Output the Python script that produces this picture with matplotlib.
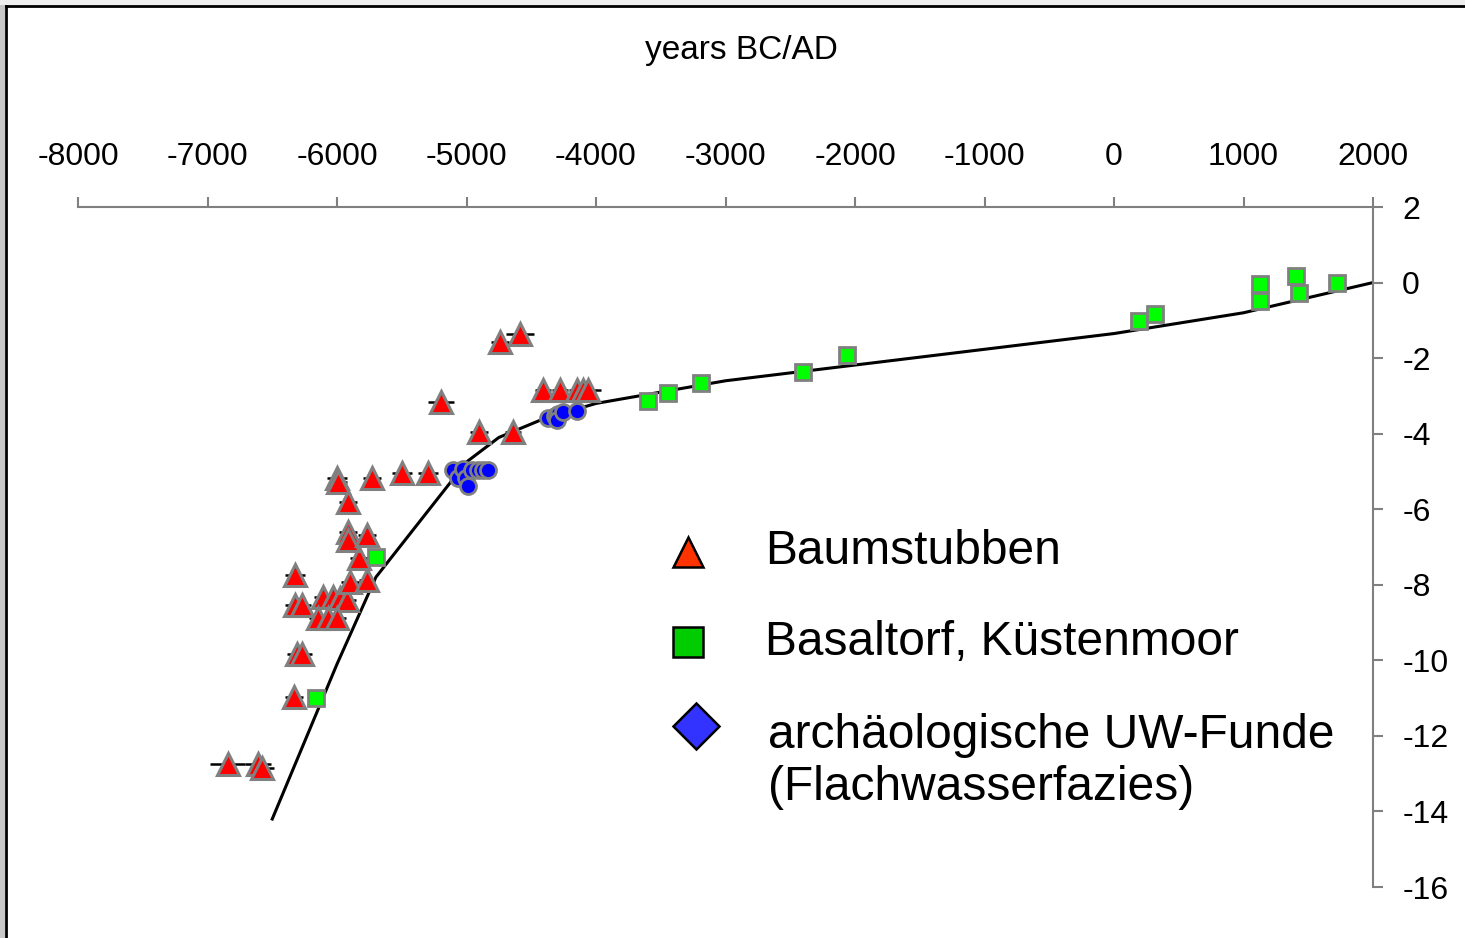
import matplotlib
matplotlib.use("Agg")
import matplotlib.pyplot as plt
import numpy as np
from matplotlib.patches import Rectangle
from matplotlib.lines import Line2D

plt.rcParams['font.family'] = ['Liberation Sans', 'DejaVu Sans']
plt.rcParams['axes.unicode_minus'] = False

# Baumstubben (tree stumps): age, depth, age error
stump_x = [-6842, -6610, -6579, -6332, -6309, -6270, -6324, -6324, -6270, -6108,
           -6031, -5977, -5923, -6147, -6069, -6000, -5900, -5768, -5830, -5915,
           -5915, -5768, -5915, -6000, -5992, -5730, -5498, -5297, -5197, -4903,
           -4641, -4741, -4587, -4409, -4278, -4147, -4100, -4062]
stump_y = [-12.74, -12.74, -12.85, -10.97, -9.83, -9.83, -7.74, -8.53, -8.53, -8.32,
           -8.32, -8.35, -8.40, -8.88, -8.88, -8.88, -7.93, -7.87, -7.29, -6.60,
           -6.81, -6.68, -5.81, -5.17, -5.28, -5.17, -5.04, -5.04, -3.16, -3.96,
           -3.96, -1.57, -1.36, -2.84, -2.84, -2.84, -2.84, -2.84]
stump_err = [135, 100, 90, 70, 80, 80, 80, 80, 70, 70,
             70, 70, 70, 70, 70, 70, 70, 60, 70, 70,
             70, 70, 70, 80, 70, 70, 80, 80, 100, 70,
             60, 70, 110, 60, 60, 60, 60, 100]

# Basaltorf, Kuestenmoor (basal peat)
peat_x = [-6162, -5699, -3598, -3444, -3189, -2402, -2062, 193, 316,
          1127, 1127, 1405, 1428, 1722]
peat_y = [-11.0, -7.26, -3.13, -2.92, -2.66, -2.37, -1.92, -1.02, -0.83,
          -0.04, -0.49, 0.17, -0.28, 0.0]

# archaeological underwater finds
arch_x = [-5104, -5066, -5027, -5004, -4988, -4957, -4911, -4873, -4834,
          -4371, -4317, -4293, -4301, -4255, -4147]
arch_y = [-4.96, -5.17, -4.93, -5.17, -5.38, -4.96, -4.96, -4.96, -4.96,
          -3.59, -3.53, -3.48, -3.64, -3.43, -3.40]
arch_err = [60, 60, 60, 60, 60, 60, 60, 60, 60,
            60, 60, 60, 60, 60, 60]

# sea level curve
curve_x = [-6500, -6000, -5700, -5000, -4750, -4400, -4000, -3000, 0, 1000, 2000]
curve_y = [-14.2, -10.1, -7.8, -4.75, -4.1, -3.6, -3.2, -2.6, -1.35, -0.8, 0.0]

xticks = np.arange(-8000, 2001, 1000)
yticks = np.arange(2, -17, -2)

fig = plt.figure(figsize=(14.65, 9.38), dpi=100)
fig.patch.set_facecolor('white')
# outer frame like the screenshot
fig.add_artist(Rectangle((0, 0), 5/1465, 1, transform=fig.transFigure, color='#c8c8c8', lw=0))
fig.add_artist(Rectangle((0, 1 - 5/938), 1, 5/938, transform=fig.transFigure, color='#eeeeee', lw=0))
fig.add_artist(Line2D([6/1465, 6/1465], [0, 1 - 6/938], transform=fig.transFigure, color='black', lw=2))
fig.add_artist(Line2D([6/1465, 1], [1 - 6/938, 1 - 6/938], transform=fig.transFigure, color='black', lw=2))

ax = fig.add_axes([78/1465, 51/938, 1295/1465, 680/938])
ax.plot(curve_x, curve_y, color='black', lw=2.2, zorder=2)

ax.errorbar(stump_x, stump_y, xerr=stump_err, fmt='none', ecolor='black', elinewidth=1.8, capsize=0, zorder=2.5)
ax.errorbar(arch_x, arch_y, xerr=arch_err, fmt='none', ecolor='black', elinewidth=1.8, capsize=0, zorder=2.5)

ax.plot(stump_x, stump_y, ls='none', marker='^', ms=15.5, mfc='#ff0000', mec='#808080', mew=2.2, zorder=3)
ax.plot(peat_x, peat_y, ls='none', marker='s', ms=11, mfc='#00ff00', mec='#808080', mew=2.0, zorder=3)
ax.plot(arch_x, arch_y, ls='none', marker='o', ms=11.5, mfc='#0000ff', mec='#808080', mew=2.0, zorder=3)

ax.set_xlim(-8000, 2000)
ax.set_ylim(-16, 2)
ax.set_xticks(xticks)
ax.set_yticks(yticks)
ax.set_xticklabels([str(v) for v in xticks])
ax.set_yticklabels([str(v) for v in yticks])
ax.xaxis.tick_top()
ax.yaxis.tick_right()
for s in ['left', 'bottom']:
    ax.spines[s].set_visible(False)
for s in ['top', 'right']:
    ax.spines[s].set_color('#808080')
    ax.spines[s].set_linewidth(1.5)
ax.tick_params(axis='x', direction='out', length=7, width=1.5, color='#808080', pad=18, labelsize=23)
ax.tick_params(axis='y', direction='out', length=7, width=1.5, color='#808080', pad=14, labelsize=23)

fig.text(741/1465, 1 - 50/938, 'years BC/AD', ha='center', va='center', fontsize=24)

# legend drawn by hand
ax.plot([0.471], [0.493], transform=ax.transAxes, marker='^', ms=22, mfc='#ff3300', mec='black', mew=1.8, clip_on=False)
ax.plot([0.471], [0.360], transform=ax.transAxes, marker='s', ms=22, mfc='#00cc00', mec='black', mew=1.8, clip_on=False)
ax.plot([0.477], [0.237], transform=ax.transAxes, marker='D', ms=23, mfc='#3333ff', mec='black', mew=1.8, clip_on=False)
ax.text(0.5305, 0.494, 'Baumstubben', transform=ax.transAxes, fontsize=34.5, va='center', ha='left')
ax.text(0.5305, 0.360, 'Basaltorf, Küstenmoor', transform=ax.transAxes, fontsize=34.5, va='center', ha='left')
ax.text(0.533, 0.185, 'archäologische UW-Funde\n(Flachwasserfazies)', transform=ax.transAxes,
        fontsize=34.5, va='center', ha='left', linespacing=1.2)

plt.savefig('out.png', dpi=100)
plt.close()
